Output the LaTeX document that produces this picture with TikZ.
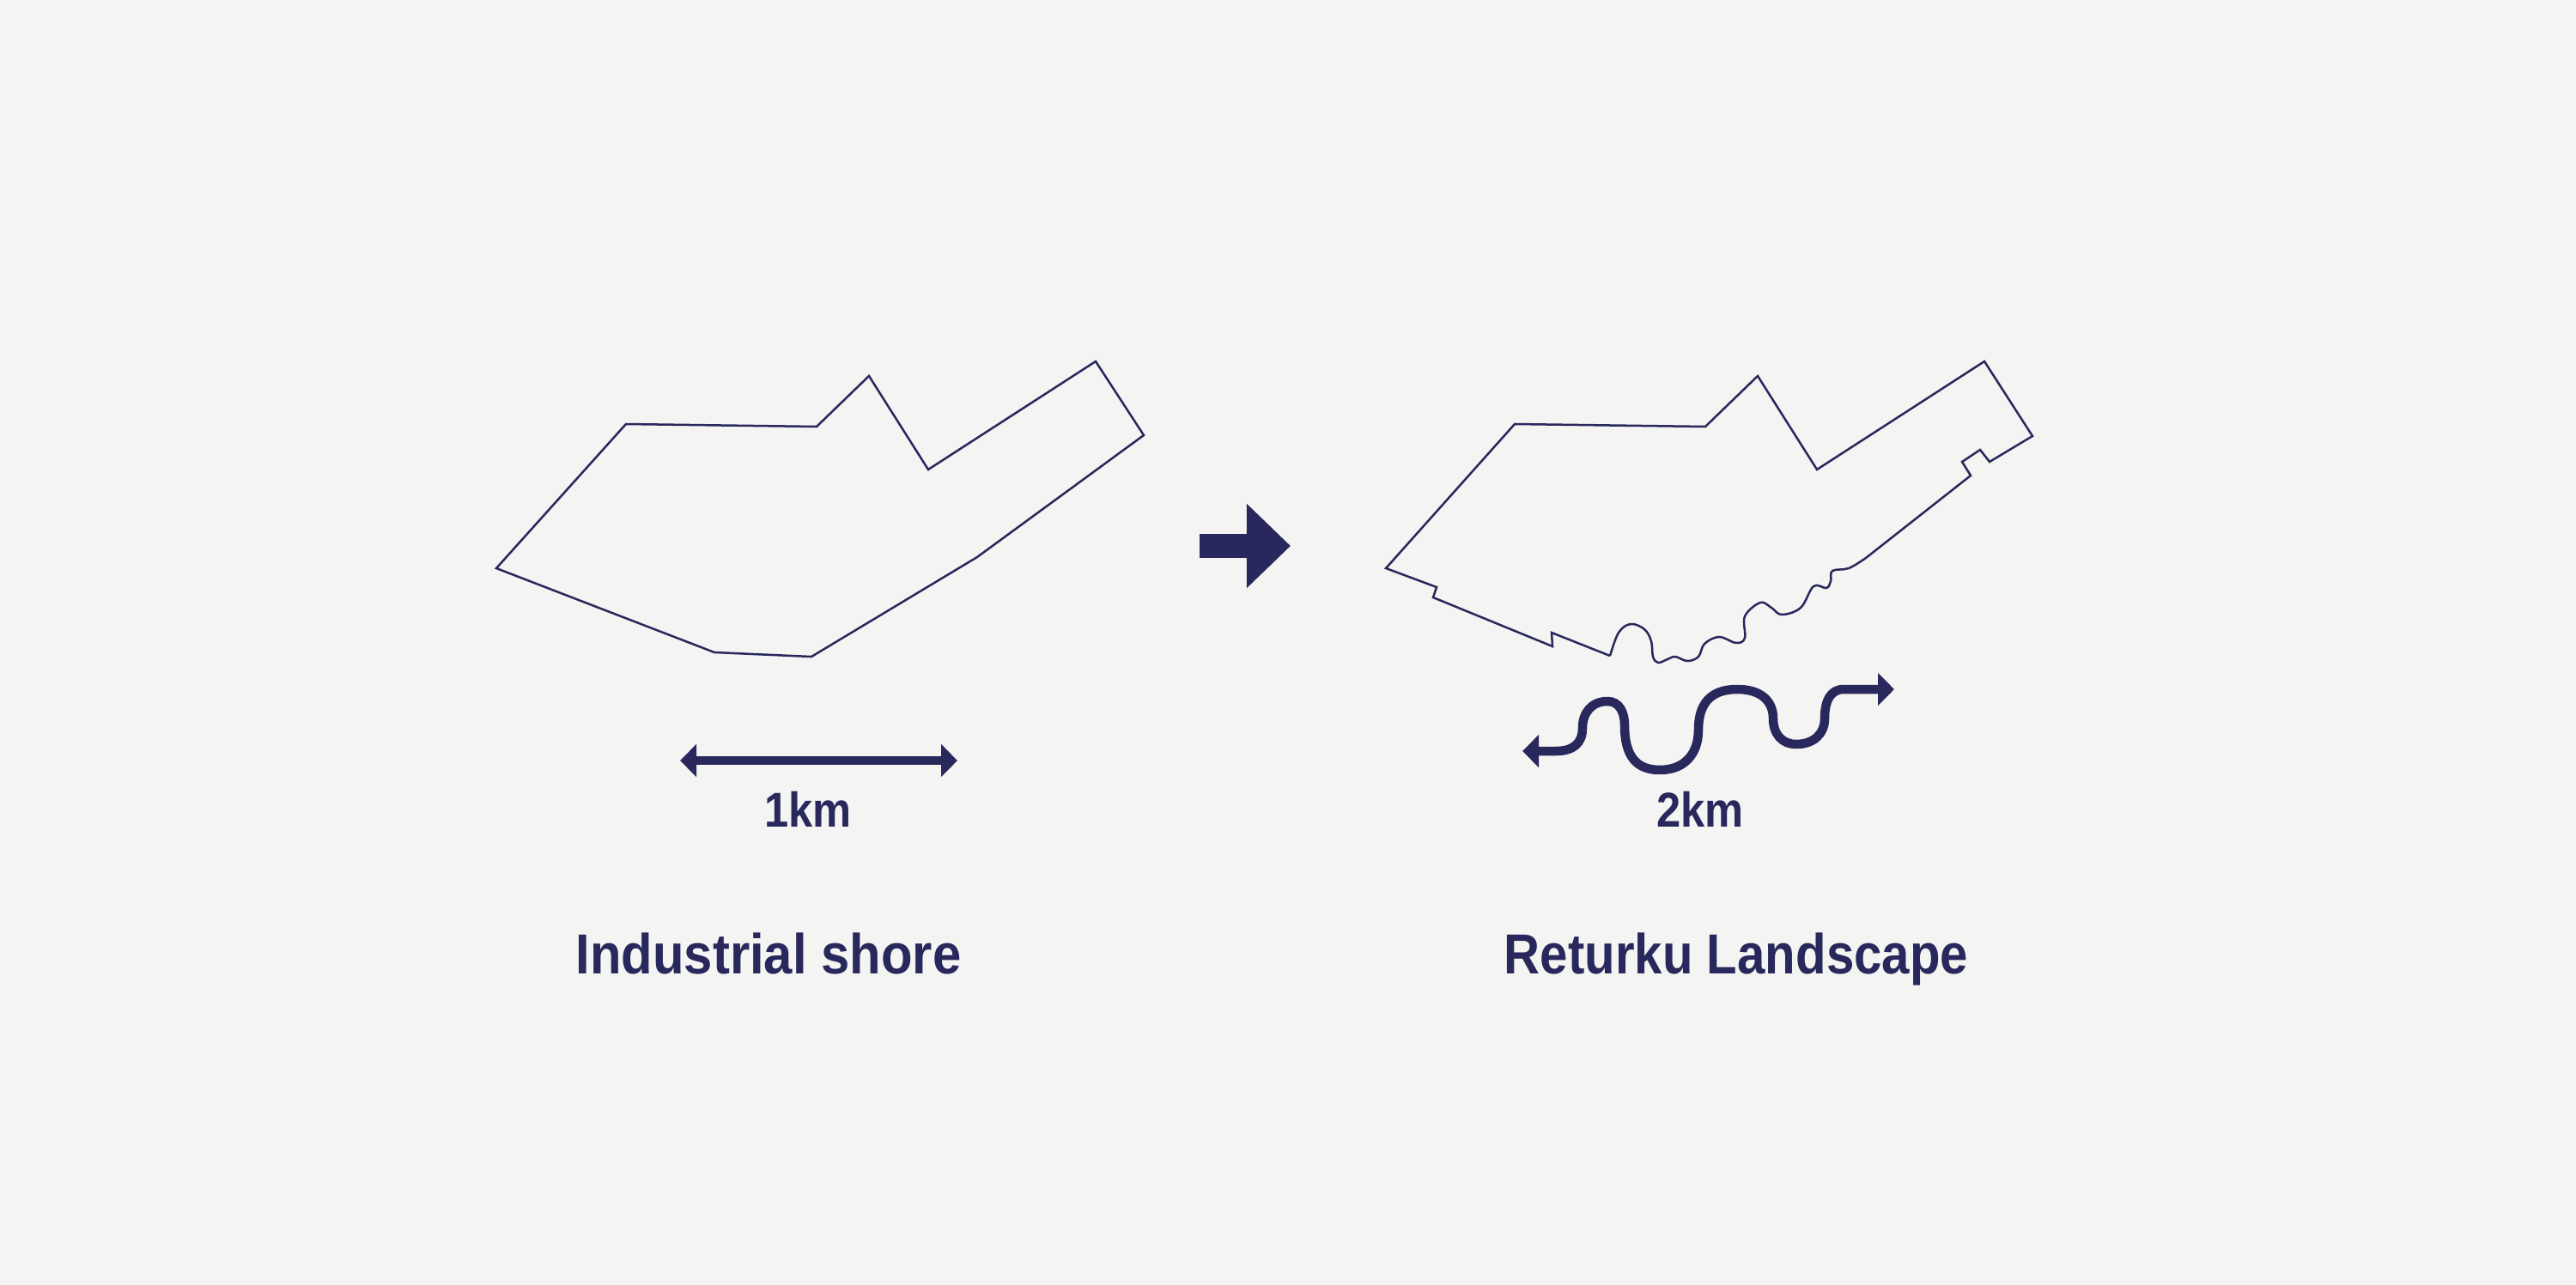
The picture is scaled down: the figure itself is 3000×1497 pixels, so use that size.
\documentclass[tikz,border=0pt]{standalone}
\usepackage{fontspec}
\setmainfont{Liberation Sans}
\usetikzlibrary{arrows.meta}
\definecolor{shoreblue}{HTML}{29285C}
\definecolor{paper}{HTML}{F4F4F2}
\newcommand{\squeezed}[2][0.91]{\scalebox{#1}[1]{#2}}
\tikzset{
    outline/.style={draw=shoreblue, line width=0.25mm, line join=miter},
    scalearrow/.style={draw=shoreblue, line width=1.05mm, {Triangle[length=1.9mm,width=3.7mm]}-{Triangle[length=1.9mm,width=3.7mm]}},
    bigarrow/.style={draw=shoreblue, line width=2.7mm, -{Triangle[length=5.1mm,width=9.5mm]}},
    scaletext/.style={text=shoreblue, anchor=base, inner sep=0pt, font=\fontsize{16.2}{20}\selectfont\bfseries},
    titletext/.style={text=shoreblue, anchor=base, inner sep=0pt, font=\fontsize{18.7}{24}\selectfont\bfseries}
}
\begin{document}
\begin{tikzpicture}[x=0.01cm, y=-0.01cm]
        \useasboundingbox (0,0) rectangle (3000,1497);
        \fill[paper] (0,0) rectangle (3000,1497);

        % Nodes
        \node (onekm) [scaletext] at (941,963) {\squeezed[0.89]{1km}};
        \node (twokm) [scaletext] at (1980,963) {\squeezed[0.89]{2km}};
        \node (industrial) [titletext] at (895,1134) {\squeezed{Industrial shore}};
        \node (returku) [titletext] at (2022,1134) {\squeezed[0.885]{Returku Landscape}};

        \coordinate (oneL) at (792,886);
        \coordinate (oneR) at (1115,886);
        \coordinate (bigL) at (1397,636);
        \coordinate (bigR) at (1503,636);

        % Shores
        \draw[outline] (578,662) -- (729,494) -- (951,497) -- (1012,438) -- (1081,547)
            -- (1276,421) -- (1332,507) -- (1138,649) -- (945,765) -- (832,760) -- cycle;

        \draw[outline] (1875,764) -- (1807,737) -- (1808,753) -- (1669,696) -- (1673,684) -- (1614,662)
            -- (1764,494) -- (1986,497) -- (2047,438) -- (2116,547) -- (2311,421) -- (2367,508)
            -- (2317,538) -- (2306,524) -- (2285,538) -- (2295,554) -- (2173,650);
        \draw[outline] plot[smooth, tension=0.6] coordinates {(1875,764) (1885,737) (1899,727) (1915,733) (1923,747)
            (1925,765) (1931,772) (1942,768) (1951,765) (1965,770) (1978,765) (1985,750) (2002,742)
            (2022,749) (2032,743) (2032,718) (2050,702) (2063,708) (2075,716) (2097,708) (2112,683)
            (2127,685) (2132,677) (2134,665) (2153,662) (2173,650)};

        % Edges
        \draw[scalearrow] (oneL) -- (oneR);
        \draw[bigarrow] (bigL) -- (bigR);
        \draw[scalearrow] (1773,875) -- (1812,875) .. controls (1832,875) and (1843,866) .. (1843,848)
            .. controls (1843,830) and (1854,817) .. (1872,817) .. controls (1886,817) and (1892,830) .. (1892,845)
            .. controls (1892,880) and (1905,897) .. (1933,897) .. controls (1962,897) and (1978,878) .. (1978,850)
            .. controls (1978,820) and (1992,803) .. (2023,803) .. controls (2050,803) and (2065,816) .. (2065,837)
            .. controls (2065,855) and (2075,867) .. (2092,867) .. controls (2112,867) and (2125,855) .. (2125,837)
            .. controls (2125,816) and (2132,803) .. (2147,803) -- (2206,803);
\end{tikzpicture}
\end{document}
